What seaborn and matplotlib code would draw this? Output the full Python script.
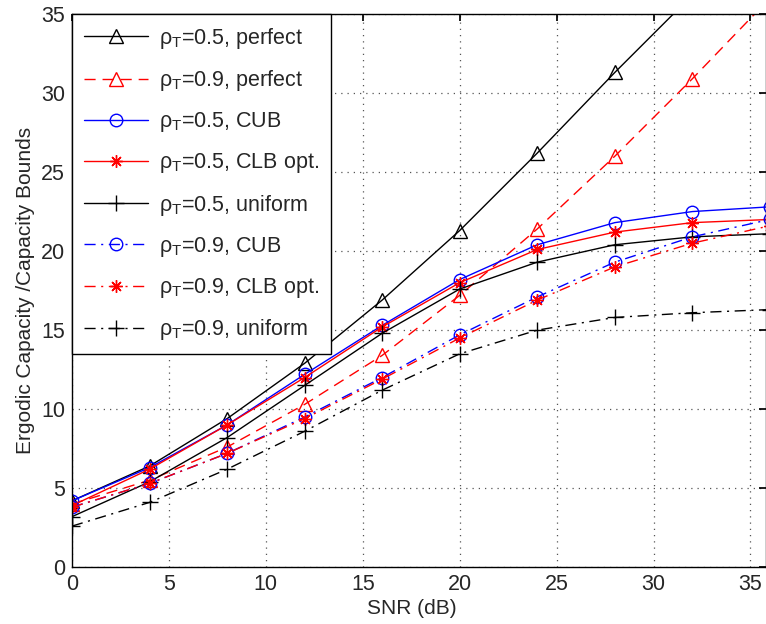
import pandas as pd
import seaborn as sns
from matplotlib import pyplot as plt

snr = [0, 4, 8, 12, 16, 20, 24, 28, 32, 36]

perfect_05 = [4.2, 6.4, 9.4, 12.9, 16.9, 21.3, 26.2, 31.3, 36.2, 41.1]
perfect_09 = [4.0, 5.5, 7.6, 10.3, 13.4, 17.2, 21.4, 26.0, 30.9, 36.0]
cub_05 = [4.2, 6.3, 9.0, 12.2, 15.3, 18.2, 20.4, 21.8, 22.5, 22.8]
clb_05 = [3.9, 6.2, 9.0, 12.0, 15.2, 18.0, 20.1, 21.2, 21.8, 22.0]
uni_05 = [3.2, 5.4, 8.2, 11.5, 14.8, 17.6, 19.3, 20.4, 20.9, 21.1]
cub_09 = [3.8, 5.3, 7.2, 9.5, 12.0, 14.7, 17.1, 19.3, 20.9, 22.0]
clb_09 = [3.8, 5.3, 7.2, 9.4, 11.9, 14.5, 16.9, 19.0, 20.5, 21.6]
uni_09 = [2.6, 4.1, 6.2, 8.6, 11.2, 13.5, 15.0, 15.8, 16.1, 16.3]

labels = [r'$\rho_T$=0.5, perfect', r'$\rho_T$=0.9, perfect',
          r'$\rho_T$=0.5, CUB', r'$\rho_T$=0.5, CLB opt.',
          r'$\rho_T$=0.5, uniform', r'$\rho_T$=0.9, CUB',
          r'$\rho_T$=0.9, CLB opt.', r'$\rho_T$=0.9, uniform']
series = [perfect_05, perfect_09, cub_05, clb_05, uni_05, cub_09, clb_09, uni_09]

# (color, linestyle, marker, markersize)
styles = [
    ('black', '-', '^', 10),
    ('red', (0, (8, 5)), '^', 10),
    ('blue', '-', 'o', 9),
    ('red', '-', (8, 2, 0), 9),
    ('black', '-', '+', 12),
    ('blue', (0, (8, 4, 1.5, 4)), 'o', 9),
    ('red', (0, (8, 4, 1.5, 4)), (8, 2, 0), 9),
    ('black', (0, (8, 4, 1.5, 4)), '+', 12),
]

df = pd.concat([pd.DataFrame({'snr': snr, 'cap': v, 'curve': lab})
                for lab, v in zip(labels, series)])

sns.set_theme(style='white')
plt.rcParams['font.family'] = ['Liberation Sans', 'DejaVu Sans']
plt.rcParams['mathtext.fontset'] = 'custom'
plt.rcParams['mathtext.rm'] = 'Liberation Sans'
plt.rcParams['mathtext.it'] = 'Liberation Sans'

fig = plt.figure(figsize=(7.66, 6.24), dpi=100)
ax = fig.add_axes([0.094, 0.091, 0.906, 0.8866])

for lab, (col, ls, mk, ms) in zip(labels, styles):
    sub = df[df['curve'] == lab]
    sns.lineplot(data=sub, x='snr', y='cap', ax=ax, color=col, linestyle=ls,
                 marker=mk, markersize=ms, markerfacecolor='none',
                 markeredgecolor=col, markeredgewidth=1.0, linewidth=1.0,
                 label=lab, errorbar=None)

ax.set_xlim(0, 35.8)
ax.set_ylim(0, 35)
ax.set_xticks(range(0, 36, 5))
ax.set_yticks(range(0, 36, 5))
ax.grid(True, linestyle=(0, (1, 4)), color='#555555', linewidth=0.9)
ax.tick_params(direction='in', top=True, right=True, labelsize=15.5,
               length=5, color='black', pad=5)
for sp in ax.spines.values():
    sp.set_color('black')
    sp.set_linewidth(1.0)

ax.set_xlabel('SNR (dB)', fontsize=15)
ax.xaxis.set_label_coords(0.49, -0.058)
ax.set_ylabel('Ergodic Capacity /Capacity Bounds', fontsize=15, labelpad=4)

leg = ax.legend(loc='upper left', fontsize=15.5, borderaxespad=0,
                fancybox=False, framealpha=1, edgecolor='black',
                handlelength=3.0, labelspacing=0.8, borderpad=0.55,
                handletextpad=0.5, numpoints=1)
leg.get_frame().set_linewidth(1.0)

fig.savefig('out.png', dpi=100)
